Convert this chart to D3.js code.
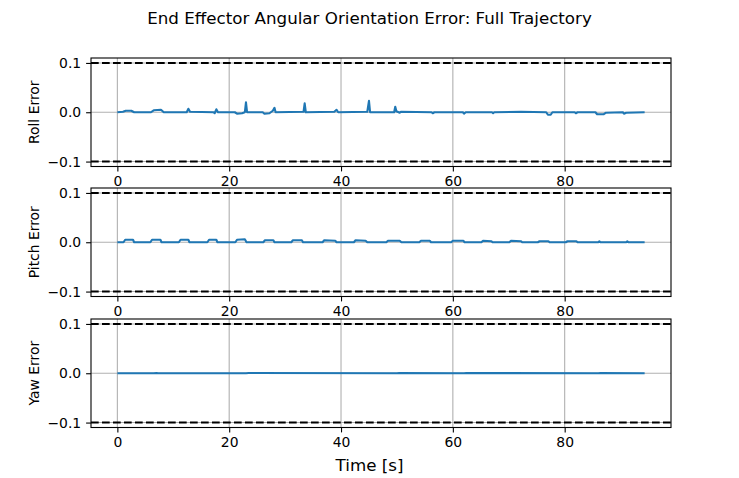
<!DOCTYPE html>
<html lang="en">
  <head>
    <meta charset="UTF-8" />
    <title>End Effector Angular Orientation Error</title>
    <script src="https://d3js.org/d3.v7.min.js"></script>
    <style>
      body {
        margin: 0;
        background: #fff;
        font-family: "DejaVu Sans", sans-serif;
      }
    </style>
  </head>
  <body>
    <div id="chart"></div>
    <script>
      // roll error keypoints (time s, error)
      const rollT = [0, 1.0, 1.5, 2.5, 3.0, 6.0, 6.5, 7.8, 8.3, 12.4, 12.7, 13.0, 17.2, 17.4, 17.7, 18.0,
        21.0, 21.4, 22.3, 22.8, 23.0, 23.2, 26.0, 26.3, 27.2, 27.8, 28.1, 28.3, 33.3, 33.5, 33.7,
        38.8, 39.2, 39.5, 44.7, 45.0, 45.2, 49.5, 49.7, 49.9, 50.5, 50.7, 56.2, 56.4, 56.7,
        61.8, 62.0, 62.3, 67.0, 67.2, 67.4, 72.2, 76.7, 77.0, 77.5, 77.8, 81.8, 82.0, 82.3,
        85.5, 85.8, 87.0, 87.4, 90.4, 90.6, 91.0, 94.3]
      const rollV = [0, 0.001, 0.003, 0.003, 0, 0, 0.004, 0.005, 0, 0, 0.007, 0.001, 0, -0.002, 0.006, 0,
        0, -0.003, -0.002, 0, 0.02, 0, 0, -0.003, -0.002, 0.003, 0.009, 0, 0.001, 0.018, 0,
        0.001, 0.005, 0, 0.001, 0.023, 0, 0, 0.011, 0.002, -0.001, 0.001, 0, -0.002, 0,
        0, -0.003, 0, 0, -0.002, 0, 0.001, 0, -0.005, -0.005, 0, 0, -0.002, 0,
        0, -0.004, -0.004, -0.001, 0, -0.003, -0.001, 0]

      // pitch error keypoints
      const pitchT = [0, 1.1, 1.4, 2.8, 3.0, 5.9, 6.2, 7.7, 7.9, 11.0, 11.3, 12.7, 12.9, 16.1, 16.4, 17.7, 17.9,
        21.1, 21.4, 22.8, 23.1, 26.1, 26.4, 27.9, 28.1, 31.1, 31.4, 33.0, 33.2, 36.7, 37.0, 39.0, 39.2,
        42.3, 42.6, 44.4, 44.7, 48.1, 48.4, 50.5, 50.8, 54.0, 54.3, 55.9, 56.1, 59.7, 60.0, 61.9, 62.1,
        65.1, 65.4, 66.9, 67.1, 70.1, 70.4, 72.2, 72.4, 75.2, 75.5, 77.1, 77.3, 80.2, 80.5, 82.1, 82.3,
        86.0, 86.2, 86.4, 91.0, 91.2, 91.4, 94.3]
      const pitchV = [0, 0, 0.005, 0.005, 0, 0, 0.005, 0.005, 0, 0, 0.005, 0.005, 0, 0, 0.005, 0.005, 0,
        0, 0.005, 0.006, 0, 0, 0.004, 0.004, 0, 0, 0.004, 0.004, 0, 0, 0.004, 0.003, 0,
        0, 0.004, 0.003, 0, 0, 0.003, 0.003, 0, 0, 0.003, 0.003, 0, 0, 0.003, 0.003, 0,
        0, 0.003, 0.002, 0, 0, 0.003, 0.002, 0, 0, 0.002, 0.002, 0, 0, 0.002, 0.002, 0,
        0, 0.002, 0, 0, 0.002, 0, 0]

      // yaw error keypoints
      const yawT = [0, 6.5, 7.0, 7.3, 23.0, 23.5, 50.0, 50.4, 62.0, 62.4, 86.0, 86.4, 94.3]
      const yawV = [0, 0, 0.0006, 0, 0, 0.0004, 0, 0.0005, 0, 0.0005, 0, 0.0004, 0]

      const panels = [
        { label: "Roll Error", t: rollT, v: rollV },
        { label: "Pitch Error", t: pitchT, v: pitchV },
        { label: "Yaw Error", t: yawT, v: yawV }
      ]
      const xTicks = [0, 20, 40, 60, 80]
      const yTicks = [-0.1, 0.0, 0.1]
      const limit = 0.1

      const W = 739, H = 478
      const left = 91, right = 671
      const tops = [58, 188, 319]
      const ph = 108.5

      const svg = d3.select("#chart").append("svg").attr("width", W).attr("height", H)

      svg.append("text")
        .attr("x", W / 2).attr("y", 24)
        .attr("text-anchor", "middle")
        .attr("font-size", "16.7px")
        .text("End Effector Angular Orientation Error: Full Trajectory")

      svg.append("text")
        .attr("x", W / 2).attr("y", 471)
        .attr("text-anchor", "middle")
        .attr("font-size", "16.7px")
        .text("Time [s]")

      const x = d3.scaleLinear().domain([-4.715, 99.015]).range([left, right])
      const fmt = d => d3.format(".1f")(d).replace("-", "\u2212")

      panels.forEach((p, i) => {
        const top = tops[i]
        const y = d3.scaleLinear().domain([-0.11, 0.11]).range([top + ph, top])
        const g = svg.append("g")

        // grid
        g.selectAll(".gx").data(xTicks).enter().append("line")
          .attr("x1", d => x(d)).attr("x2", d => x(d))
          .attr("y1", top).attr("y2", top + ph)
          .attr("stroke", "#b0b0b0").attr("stroke-width", 1.1)
        g.selectAll(".gy").data(yTicks).enter().append("line")
          .attr("x1", left).attr("x2", right)
          .attr("y1", d => y(d)).attr("y2", d => y(d))
          .attr("stroke", "#b0b0b0").attr("stroke-width", 1.1)

        // limits
        g.selectAll(".lim").data([limit, -limit]).enter().append("line")
          .attr("x1", left).attr("x2", right)
          .attr("y1", d => y(d)).attr("y2", d => y(d))
          .attr("stroke", "#000").attr("stroke-width", 2.1)
          .attr("stroke-dasharray", "7.7 3.3")

        const pts = p.t.map((t, k) => [t, p.v[k]])
        g.append("path")
          .datum(pts)
          .attr("fill", "none")
          .attr("stroke", "#1f77b4")
          .attr("stroke-width", 2.1)
          .attr("stroke-linejoin", "round")
          .attr("d", d3.line().x(d => x(d[0])).y(d => y(d[1])))

        // axes
        const xa = g.append("g")
          .attr("transform", `translate(0,${top + ph})`)
          .call(d3.axisBottom(x).tickValues(xTicks).tickSize(4.9).tickPadding(4.9).tickFormat(d3.format("d")))
        const ya = g.append("g")
          .attr("transform", `translate(${left},0)`)
          .call(d3.axisLeft(y).tickValues(yTicks).tickSize(4.9).tickPadding(4.9).tickFormat(fmt))
        ;[xa, ya].forEach(a => {
          a.select(".domain").remove()
          a.selectAll("line").attr("stroke", "#000").attr("stroke-width", 1.1)
          a.selectAll("text").attr("font-size", "13.9px").attr("fill", "#000")
            .attr("font-family", "DejaVu Sans, sans-serif")
        })

        g.append("rect")
          .attr("x", left).attr("y", top)
          .attr("width", right - left).attr("height", ph)
          .attr("fill", "none").attr("stroke", "#000").attr("stroke-width", 1.1)

        g.append("text")
          .attr("transform", `translate(39,${top + ph / 2}) rotate(-90)`)
          .attr("text-anchor", "middle")
          .attr("font-size", "13.9px")
          .text(p.label)
      })
    </script>
  </body>
</html>
